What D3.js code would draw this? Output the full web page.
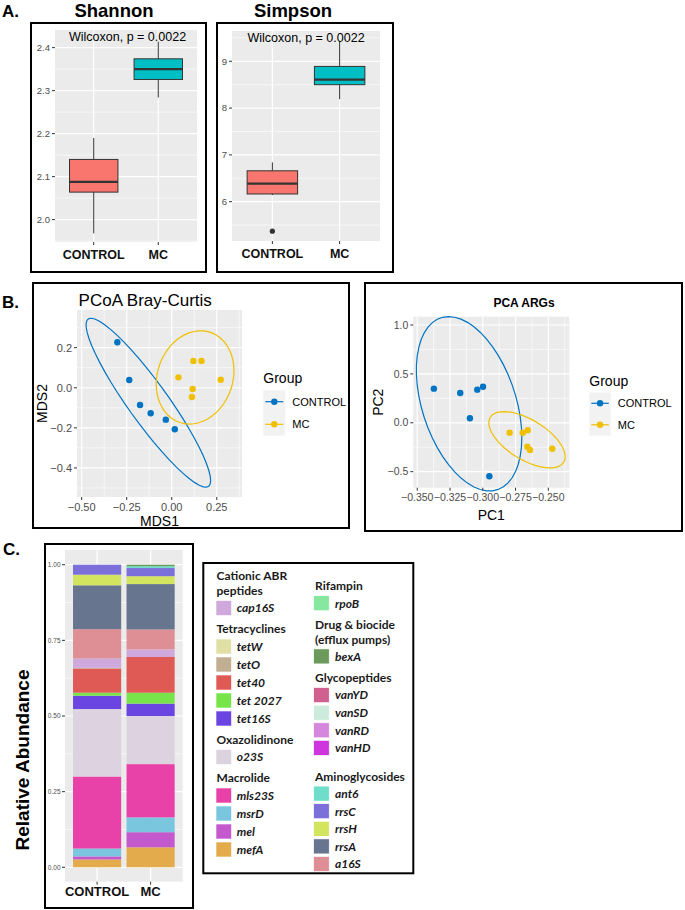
<!DOCTYPE html>
<html><head><meta charset="utf-8">
<script src="https://cdn.jsdelivr.net/npm/d3@7/dist/d3.min.js"></script>
<style>body{margin:0;background:#fff}svg{display:block}</style>
</head><body>
<svg id="c" width="685" height="910"></svg>
<script>
// ---------------- DATA ----------------
const groups = ["CONTROL", "MC"];
const groupColors = ["#0073C2", "#EFC000"];
const boxFills = ["#F8766D", "#00BFC4"];

// Panel A: box statistics [low whisker, Q1, median, Q3, high whisker]
const shannonBox = [[1.968, 2.064, 2.088, 2.140, 2.190], [2.284, 2.326, 2.350, 2.374, 2.414]];
const shannonOutliers = [[], []];
const shannonTicks = [2.0, 2.1, 2.2, 2.3, 2.4];
const simpsonBox = [[6.14, 6.165, 6.385, 6.66, 6.84], [8.19, 8.50, 8.61, 8.89, 9.44]];
const simpsonOutliers = [[5.37], []];
const simpsonTicks = [6, 7, 8, 9];
const pLabel = "Wilcoxon, p = 0.0022";

// Panel B: ordination coordinates
const pcoaControl = [[-0.302, 0.227], [-0.236, 0.039], [-0.176, -0.086], [-0.117, -0.127], [-0.033, -0.159], [0.017, -0.207]];
const pcoaMC = [[0.037, 0.052], [0.120, 0.134], [0.165, 0.134], [0.272, 0.040], [0.116, -0.006], [0.112, -0.046]];
const pcoaXTicks = [-0.5, -0.25, 0, 0.25];
const pcoaYTicks = [-0.4, -0.2, 0, 0.2];
const pcaControl = [[-0.3373, 0.349], [-0.3172, 0.305], [-0.3098, 0.046], [-0.3042, 0.339], [-0.2998, 0.369], [-0.2950, -0.547]];
const pcaMC = [[-0.2795, -0.101], [-0.2695, -0.101], [-0.2657, -0.077], [-0.2660, -0.244], [-0.2640, -0.278], [-0.2470, -0.265]];
const pcaXTicks = [-0.35, -0.325, -0.3, -0.275, -0.25];
const pcaYTicks = [-0.5, 0, 0.5, 1.0];

// Panel C: relative abundance, stacking order bottom -> top
const genes = ["mefA", "mel", "msrD", "mls23S", "o23S", "tet16S", "tet 2027", "tet40", "tetO", "tetW", "cap16S", "a16S", "rrsA", "rrsH", "rrsC", "ant6", "vanHD", "vanRD", "vanSD", "vanYD", "bexA", "rpoB"];
const abundControl = [0.026, 0.010, 0.026, 0.238, 0.223, 0.044, 0.010, 0.080, 0.002, 0.000, 0.031, 0.097, 0.145, 0.035, 0.033, 0.000, 0, 0, 0, 0, 0.000, 0];
const abundMC = [0.066, 0.050, 0.049, 0.176, 0.159, 0.041, 0.036, 0.118, 0.000, 0.000, 0.025, 0.066, 0.150, 0.026, 0.027, 0.006, 0, 0, 0, 0, 0.005, 0];
const geneColors = {
  "cap16S": "#CFA9DC", "tetW": "#E0DFA5", "tetO": "#C2AE93", "tet40": "#E05A55", "tet 2027": "#77E44A",
  "tet16S": "#6B45E2", "o23S": "#DDD2DF", "mls23S": "#E842A8", "msrD": "#79C6DE", "mel": "#C359CD",
  "mefA": "#E3AB4C", "rpoB": "#86E89E", "bexA": "#6B9A5C", "vanYD": "#D0608F", "vanSD": "#CDEBDC",
  "vanRD": "#D587DE", "vanHD": "#CF35DD", "ant6": "#6EDDC9", "rrsC": "#7B6FD9", "rrsH": "#D3E55E",
  "rrsA": "#67758F", "a16S": "#DE8F95"
};
const abundTicks = [0, 0.25, 0.5, 0.75, 1.0];
const legendLeft = [
  { head: ["Cationic ABR", "peptides"], items: ["cap16S"] },
  { head: ["Tetracyclines"], items: ["tetW", "tetO", "tet40", "tet 2027", "tet16S"] },
  { head: ["Oxazolidinone"], items: ["o23S"] },
  { head: ["Macrolide"], items: ["mls23S", "msrD", "mel", "mefA"] }
];
const legendRight = [
  { head: ["Rifampin"], items: ["rpoB"] },
  { head: ["Drug & biocide", "(efflux pumps)"], items: ["bexA"] },
  { head: ["Glycopeptides"], items: ["vanYD", "vanSD", "vanRD", "vanHD"] },
  { head: ["Aminoglycosides"], items: ["ant6", "rrsC", "rrsH", "rrsA", "a16S"] }
];

// ---------------- HELPERS ----------------
const svg = d3.select("#c");
const FONT = "'Liberation Sans', Arial, Helvetica, sans-serif";
const TICKCOL = "#4D4D4D";

function frame(x0, y0, x1, y1) {
  svg.append("rect").attr("x", x0).attr("y", y0).attr("width", x1 - x0).attr("height", y1 - y0)
    .attr("fill", "none").attr("stroke", "#000").attr("stroke-width", 2);
}
function text(g, x, y, s, opts = {}) {
  const t = g.append("text").attr("x", x).attr("y", y).text(s)
    .attr("font-family", opts.family || FONT).attr("font-size", opts.size || 12)
    .attr("fill", opts.fill || "#000").attr("text-anchor", opts.anchor || "start");
  if (opts.weight) t.attr("font-weight", opts.weight);
  if (opts.style) t.attr("font-style", opts.style);
  if (opts.rotate) t.attr("transform", `rotate(${opts.rotate},${x},${y})`);
  return t;
}
function minorBreaks(major, domain) {
  const step = major[1] - major[0];
  const lo = Math.min(domain[0], domain[1]), hi = Math.max(domain[0], domain[1]);
  const out = [major[0] - step / 2];
  for (let i = 0; i < major.length; i++) out.push(major[i] + step / 2);
  return out.filter(v => v >= lo && v <= hi);
}
function panelBg(x, y) {
  const [x0, x1] = x.range(), [y1, y0] = y.range();
  svg.append("rect").attr("x", x0).attr("y", y0).attr("width", x1 - x0).attr("height", y1 - y0).attr("fill", "#EBEBEB");
}
function hGrid(y, xr, vals, w) {
  svg.append("g").selectAll("line").data(vals).join("line")
    .attr("x1", xr[0]).attr("x2", xr[1]).attr("y1", d => y(d)).attr("y2", d => y(d))
    .attr("stroke", "#fff").attr("stroke-width", w);
}
function vGrid(xs, yr, w) {
  svg.append("g").selectAll("line").data(xs).join("line")
    .attr("y1", yr[0]).attr("y2", yr[1]).attr("x1", d => d).attr("x2", d => d)
    .attr("stroke", "#fff").attr("stroke-width", w);
}
function yAxis(y, x0, ticks, fmt, size, gap) {
  const g = svg.append("g");
  ticks.forEach(t => {
    g.append("line").attr("x1", x0 - 3).attr("x2", x0).attr("y1", y(t)).attr("y2", y(t)).attr("stroke", "#333").attr("stroke-width", 1);
    text(g, x0 - 3 - gap, y(t) + size * 0.35, fmt(t), { size: size, fill: TICKCOL, anchor: "end" });
  });
}
function xAxis(xpos, y0, labels, size, base, opts = {}) {
  const g = svg.append("g");
  xpos.forEach((px, i) => {
    g.append("line").attr("x1", px).attr("x2", px).attr("y1", y0).attr("y2", y0 + 3).attr("stroke", "#333").attr("stroke-width", 1);
    text(g, px, base, labels[i], Object.assign({ size: size, fill: TICKCOL, anchor: "middle" }, opts));
  });
}

// ---------------- PANEL A ----------------
function boxPanel(cfg) {
  frame(...cfg.frame);
  const x = d3.scaleBand().domain(groups).range(cfg.xr).paddingInner(0).paddingOuter(0.1);
  const y = d3.scaleLinear().domain(cfg.yd).range(cfg.yr);
  panelBg(d3.scaleLinear().range(cfg.xr), y);
  hGrid(y, cfg.xr, minorBreaks(cfg.ticks, cfg.yd), 0.6);
  hGrid(y, cfg.xr, cfg.ticks, 1.2);
  const cx = g => x(g) + x.bandwidth() / 2;
  vGrid(groups.map(cx), [cfg.yr[1], cfg.yr[0]], 1.2);
  const bw = x.bandwidth() * 0.75;
  const g = svg.append("g");
  groups.forEach((grp, i) => {
    const s = cfg.stats[i], c = cx(grp);
    g.append("line").attr("x1", c).attr("x2", c).attr("y1", y(s[4])).attr("y2", y(s[3])).attr("stroke", "#333").attr("stroke-width", 1);
    g.append("line").attr("x1", c).attr("x2", c).attr("y1", y(s[1])).attr("y2", y(s[0])).attr("stroke", "#333").attr("stroke-width", 1);
    g.append("rect").attr("x", c - bw / 2).attr("y", y(s[3])).attr("width", bw).attr("height", y(s[1]) - y(s[3]))
      .attr("fill", boxFills[i]).attr("stroke", "#333").attr("stroke-width", 1);
    g.append("line").attr("x1", c - bw / 2).attr("x2", c + bw / 2).attr("y1", y(s[2])).attr("y2", y(s[2])).attr("stroke", "#333").attr("stroke-width", 2.2);
    cfg.outliers[i].forEach(o => g.append("circle").attr("cx", c).attr("cy", y(o)).attr("r", 2.6).attr("fill", "#333"));
  });
  yAxis(y, cfg.xr[0], cfg.ticks, cfg.fmt, 9.5, 2);
  xAxis(groups.map(cx), cfg.yr[0], groups, 12.5, cfg.yr[0] + 17, { weight: "bold", fill: "#111" });
  text(svg, cfg.pX, cfg.yr[1] + 11, pLabel, { size: 12.5 });
  text(svg, cfg.titleX, 17, cfg.title, { size: 18.5, weight: "bold", anchor: "middle" });
}
text(svg, 2, 17, "A.", { size: 17, weight: "bold" });
boxPanel({ frame: [31, 23, 206, 272], xr: [55, 197], yr: [242, 30], yd: [1.948, 2.441], ticks: shannonTicks,
  stats: shannonBox, outliers: shannonOutliers, fmt: d3.format(".1f"), pX: 69, title: "Shannon", titleX: 114 });
boxPanel({ frame: [217, 23, 393, 272], xr: [232, 380], yr: [241, 31], yd: [5.16, 9.647], ticks: simpsonTicks,
  stats: simpsonBox, outliers: simpsonOutliers, fmt: d3.format("d"), pX: 247.5, title: "Simpson", titleX: 293 });

// ---------------- PANEL B ----------------
function covTrob(pts, nu = 5, maxit = 25, tol = 0.01) {
  const n = pts.length, p = 2;
  let loc = [d3.mean(pts, d => d[0]), d3.mean(pts, d => d[1])];
  let w = pts.map(() => 1), X;
  for (let it = 0; it < maxit; it++) {
    const w0 = w.slice();
    X = pts.map(d => [d[0] - loc[0], d[1] - loc[1]]);
    const sw = d3.sum(w);
    let a = 0, b = 0, c = 0;
    X.forEach((x, i) => { a += w[i] * x[0] * x[0]; b += w[i] * x[0] * x[1]; c += w[i] * x[1] * x[1]; });
    a /= sw; b /= sw; c /= sw;
    const det = a * c - b * b;
    const Q = X.map(x => (c * x[0] * x[0] - 2 * b * x[0] * x[1] + a * x[1] * x[1]) / det);
    w = Q.map(q => (nu + p) / (nu + q));
    const sw2 = d3.sum(w);
    loc = [d3.sum(pts, (d, i) => w[i] * d[0]) / sw2, d3.sum(pts, (d, i) => w[i] * d[1]) / sw2];
    if (w.every((v, i) => Math.abs(v - w0[i]) < tol)) break;
  }
  let a = 0, b = 0, c = 0;
  X.forEach((x, i) => { a += w[i] * x[0] * x[0]; b += w[i] * x[0] * x[1]; c += w[i] * x[1] * x[1]; });
  return { center: loc, cov: [[a / n, b / n], [b / n, c / n]] };
}
function ellipse(pts, level = 0.95, segments = 51) {
  const { center, cov } = covTrob(pts);
  const dfd = pts.length - 1;
  const F = (dfd / 2) * (Math.pow(1 - level, -2 / dfd) - 1);
  const r = Math.sqrt(2 * F);
  const A = Math.sqrt(cov[0][0]), B = cov[0][1] / A, C = Math.sqrt(cov[1][1] - B * B);
  return d3.range(segments + 1).map(i => {
    const t = i * 2 * Math.PI / segments;
    return [center[0] + r * A * Math.cos(t), center[1] + r * (B * Math.cos(t) + C * Math.sin(t))];
  });
}
function ordPanel(cfg) {
  frame(...cfg.frame);
  const x = d3.scaleLinear().domain(cfg.xd).range(cfg.xr);
  const y = d3.scaleLinear().domain(cfg.yd).range(cfg.yr);
  panelBg(x, y);
  hGrid(y, cfg.xr, minorBreaks(cfg.yt, cfg.yd), 0.6);
  vGrid(minorBreaks(cfg.xt, cfg.xd).map(x), [cfg.yr[1], cfg.yr[0]], 0.6);
  hGrid(y, cfg.xr, cfg.yt, 1.2);
  vGrid(cfg.xt.map(x), [cfg.yr[1], cfg.yr[0]], 1.2);
  const line = d3.line().x(d => x(d[0])).y(d => y(d[1]));
  const sets = [cfg.control, cfg.mc];
  sets.forEach((pts, i) => {
    svg.append("path").attr("d", line(ellipse(pts))).attr("fill", "none").attr("stroke", groupColors[i]).attr("stroke-width", 1.2);
  });
  sets.forEach((pts, i) => {
    svg.append("g").selectAll("circle").data(pts).join("circle")
      .attr("cx", d => x(d[0])).attr("cy", d => y(d[1])).attr("r", 3.2).attr("fill", groupColors[i]);
  });
  yAxis(y, cfg.xr[0], cfg.yt, cfg.yfmt, cfg.tsize, 2);
  xAxis(cfg.xt.map(x), cfg.yr[0], cfg.xt.map(cfg.xfmt), cfg.tsize, cfg.yr[0] + 13.5);
  text(svg, (cfg.xr[0] + cfg.xr[1]) / 2, cfg.xlabY, cfg.xlab, { size: 14, anchor: "middle" });
  text(svg, cfg.ylabX, (cfg.yr[0] + cfg.yr[1]) / 2, cfg.ylab, { size: 14, anchor: "middle", rotate: -90 });
  // legend
  const L = cfg.leg;
  text(svg, L.x, L.titleY, "Group", { size: 14 });
  groups.forEach((grp, i) => {
    const cy = L.y0 + i * L.step;
    svg.append("rect").attr("x", L.x).attr("y", cy - L.step / 2).attr("width", L.kw).attr("height", L.step).attr("fill", "#F2F2F2");
    svg.append("line").attr("x1", L.x + 2).attr("x2", L.x + L.kw - 2).attr("y1", cy).attr("y2", cy).attr("stroke", groupColors[i]).attr("stroke-width", 1.2);
    svg.append("circle").attr("cx", L.x + L.kw / 2).attr("cy", cy).attr("r", 3.2).attr("fill", groupColors[i]);
    text(svg, L.x + L.kw + 7, cy + 4, grp, { size: 11 });
  });
}
text(svg, 2, 308, "B.", { size: 17, weight: "bold" });
ordPanel({ frame: [33, 283, 349, 528], xr: [77, 242], yr: [497, 310], xd: [-0.526, 0.39], yd: [-0.545, 0.388],
  xt: pcoaXTicks, yt: pcoaYTicks, xfmt: d3.format(".2f"), yfmt: d3.format(".1f"), tsize: 11,
  control: pcoaControl, mc: pcoaMC, xlab: "MDS1", xlabY: 525.5, ylab: "MDS2", ylabX: 46.5,
  leg: { x: 263.3, titleY: 383, y0: 401.7, step: 22.6, kw: 22 } });
text(svg, 78.6, 305.5, "PCoA Bray-Curtis", { size: 17 });
ordPanel({ frame: [365, 283, 682, 531], xr: [413.3, 569.3], yr: [487.7, 316.7], xd: [-0.353, -0.234], yd: [-0.664, 1.085],
  xt: pcaXTicks, yt: pcaYTicks, xfmt: d3.format(".3f"), yfmt: d3.format(".1f"), tsize: 10.5,
  control: pcaControl, mc: pcaMC, xlab: "PC1", xlabY: 520, ylab: "PC2", ylabX: 383.3,
  leg: { x: 589.3, titleY: 386, y0: 403.3, step: 21.5, kw: 21.5 } });
text(svg, 524, 306.5, "PCA ARGs", { size: 12, weight: "bold", anchor: "middle" });

// ---------------- PANEL C ----------------
text(svg, 3, 555, "C.", { size: 17, weight: "bold" });
frame(45, 544, 193, 908);
{
  const xr = [65, 182.7], yr = [881.7, 550];
  const x = d3.scaleBand().domain(groups).range(xr).paddingInner(0).paddingOuter(0.1);
  const y = d3.scaleLinear().domain([-0.0476, 1.0486]).range(yr);
  panelBg(d3.scaleLinear().range(xr), y);
  hGrid(y, xr, minorBreaks(abundTicks, y.domain()), 0.6);
  hGrid(y, xr, abundTicks, 1.2);
  const cx = g => x(g) + x.bandwidth() / 2;
  vGrid(groups.map(cx), [yr[1], yr[0]], 1.2);
  const rows = groups.map((g, i) => {
    const r = { group: g };
    const vals = i === 0 ? abundControl : abundMC;
    genes.forEach((gn, j) => r[gn] = vals[j]);
    return r;
  });
  const series = d3.stack().keys(genes)(rows);
  const bw = x.bandwidth() * 0.9;
  svg.append("g").selectAll("g").data(series).join("g").attr("fill", d => geneColors[d.key])
    .selectAll("rect").data(d => d).join("rect")
    .attr("x", d => cx(d.data.group) - bw / 2).attr("width", bw)
    .attr("y", d => y(d[1])).attr("height", d => Math.max(0, y(d[0]) - y(d[1])));
  yAxis(y, xr[0], abundTicks, d3.format(".2f"), 6.5, 1.5);
  xAxis(groups.map(cx), yr[0], groups, 13, 896, { weight: "bold", fill: "#111" });
  text(svg, 28.5, 760, "Relative Abundance", { size: 19, weight: "bold", anchor: "middle", rotate: -90 });
}

// Legend box
frame(203.3, 563, 413.3, 873.3);
function legendColumn(col, cfg) {
  let yy = cfg.y0;
  const LF = "Lato, 'Open Sans', sans-serif";
  col.forEach((grp, gi) => {
    if (gi > 0) yy += cfg.itemToHead + (cfg.extra[gi] || 0);
    grp.head.forEach((h, hi) => {
      if (hi > 0) yy += 14.5;
      text(svg, cfg.hx, yy + 4.3, h, { size: 12, weight: "bold", family: LF, fill: "#1a1a1a" });
    });
    yy += cfg.headToItem;
    grp.items.forEach((it, ii) => {
      if (ii > 0) yy += cfg.itemStep;
      svg.append("rect").attr("x", cfg.sx).attr("y", yy - 7.5).attr("width", 15.5).attr("height", 15)
        .attr("fill", geneColors[it]).attr("stroke", "#fff").attr("stroke-width", 0.6);
      text(svg, cfg.lx, yy + 4.3, it, { size: 12, weight: "bold", style: "italic", family: LF, fill: "#1a1a1a" });
    });
  });
}
legendColumn(legendLeft, { y0: 576, hx: 216.5, sx: 216, lx: 236.7, headToItem: 17.5, itemStep: 18, itemToHead: 21, extra: {} });
legendColumn(legendRight, { y0: 586, hx: 315, sx: 313.7, lx: 335, headToItem: 17.2, itemStep: 17.6, itemToHead: 21.5, extra: { 3: 7 } });
</script>
</body></html>
